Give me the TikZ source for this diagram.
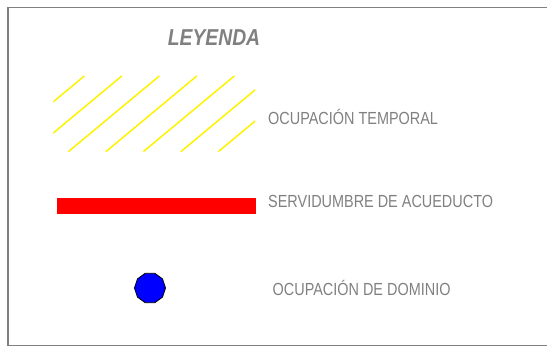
\documentclass[tikz,border=0pt]{standalone}
\usepackage{fontspec}
\setmainfont{Liberation Sans}[FakeStretch=0.825]
\newfontfamily\titlefont{Liberation Sans}[FakeStretch=0.84]
\usetikzlibrary{shapes.geometric}
\definecolor{legendgray}{RGB}{128,128,128}
\tikzset{
  legendtext/.style={anchor=west, inner sep=0pt, text=legendgray, font=\fontsize{17.5}{20}\selectfont},
  hatchline/.style={yellow, line width=1.5pt}
}
\begin{document}
\begin{tikzpicture}[x=1pt, y=-1pt]
                        \useasboundingbox (0,0) rectangle (547,350);
                        \draw[legendgray, line width=1.6pt] (8,7.5) rectangle (570,345.5);
                        \node[inner sep=0pt, text=legendgray, font=\titlefont\fontsize{23}{26}\selectfont\bfseries\itshape] (title) at (214,38) {LEYENDA};
                        \begin{scope}
                            \clip (53.3,76) rectangle (255,151.7);
                            \foreach \i in {0,...,6}
                                \draw[hatchline] (84.3+37.5*\i,76) -- ++(-91,75.7);
                        \end{scope}
                        \fill[red] (57,198) rectangle (256,214);
                        \node[regular polygon, regular polygon sides=10, minimum size=31pt, inner sep=0pt, fill=blue, draw=black, line width=0.8pt] (dominio) at (150,288) {};
                        \node[legendtext] (temporal) at (268,117) {OCUPACIÓN TEMPORAL};
                        \node[legendtext] (acueducto) at (268,201.5) {SERVIDUMBRE DE ACUEDUCTO};
                        \node[legendtext] (dominiotext) at (272.5,288) {OCUPACIÓN DE DOMINIO};
                    \end{tikzpicture}
\end{document}
